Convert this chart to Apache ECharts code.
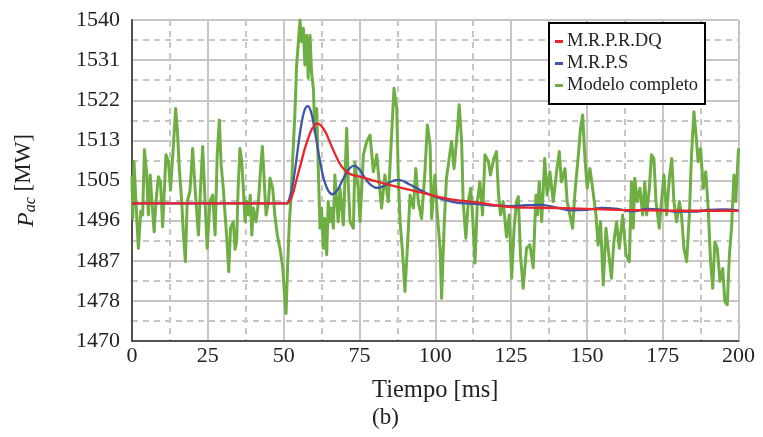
<!DOCTYPE html>
<html>
<head>
<meta charset="utf-8">
<script src="https://cdn.jsdelivr.net/npm/echarts@6/dist/echarts.min.js"></script>
<style>
html,body{margin:0;padding:0;background:#fff;}
#c{width:763px;height:437px;}
</style>
</head>
<body>
<div id="c"></div>
<script>
// ---- data ----
const seriesNames = ['M.R.P.R.DQ', 'M.R.P.S', 'Modelo completo'];
const yTickValues = [1470, 1478.75, 1487.5, 1496.25, 1505, 1513.75, 1522.5, 1531.25, 1540];
const yTickLabels = ['1470', '1478', '1487', '1496', '1505', '1513', '1522', '1531', '1540'];
const xTickLabels = ['0', '25', '50', '75', '100', '125', '150', '175', '200'];

const redT = [0,51,52,53,54,55,56,57,58,59,60,61,62,63,64,65,66,67,68,69,70,71,72,74,76,78,80,84,88,92,96,100,105,110,115,120,125,130,140,150,160,170,180,190,200];
const redV = [1500,1500,1500.5,1502,1504.5,1507,1509.5,1512,1514,1515.8,1516.9,1517.4,1517.2,1516.4,1515.3,1513.8,1512.2,1510.7,1509.3,1508.2,1507.4,1506.8,1506.4,1506,1505.7,1505.3,1504.9,1504.2,1503.5,1502.9,1502.3,1501.6,1500.9,1500.5,1500.1,1499.6,1499.2,1499.1,1499,1498.8,1498.6,1498.5,1498.4,1498.4,1498.4];

const blueT = [0,51,52,53,54,55,56,57,58,59,60,61,62,63,64,65,66,67,68,69,70,71,72,73,74,75,76,77,78,79,80,81,82,83,84,85,86,87,88,89,90,92,94,96,98,100,103,106,110,115,120,125,130,135,140,145,150,155,160,165,170,175,180,185,190,195,200];
const blueV = [1500,1500,1501.3,1504,1508.5,1513.5,1517.8,1520.5,1521.2,1520,1517,1513,1509.2,1506,1503.8,1502.5,1502,1502.3,1503.2,1504.5,1505.8,1507,1507.8,1508.2,1508,1507.4,1506.4,1505.4,1504.5,1503.9,1503.5,1503.4,1503.5,1503.8,1504.2,1504.6,1504.9,1505.1,1505.1,1505,1504.7,1504,1503.3,1502.6,1502,1501.5,1500.8,1500.3,1500,1499.8,1499.5,1499.4,1499.6,1499.7,1499.1,1498.5,1498.6,1499,1498.8,1498.3,1498.8,1498.6,1498.2,1498.2,1498.6,1498.7,1498.5];

const greenT = [0,0.25,0.66,1.3,2.1,2.9,3.5,4.1,4.8,5.4,6.0,6.5,7.3,7.9,8.7,9.4,10.1,10.7,11.2,12.0,12.7,13.6,14.4,15.0,15.6,16.4,16.9,17.6,18.2,19.1,20.0,20.8,21.9,22.6,23.3,24.1,24.8,25.7,26.6,27.4,28.1,28.8,29.4,30.1,30.7,31.2,31.9,32.5,33.4,34.0,34.5,35.0,35.6,36.2,36.7,37.3,37.8,38.4,39.0,39.5,40.0,40.9,41.7,42.4,43.0,43.5,44.2,45.0,45.5,46.4,47.1,47.9,48.8,49.7,50.3,50.8,51.3,51.9,52.4,53.0,53.7,54.3,54.8,55.4,55.9,56.5,57.0,57.6,58.1,58.7,59.2,59.8,60.3,60.9,61.4,62.0,62.5,63.1,63.6,64.2,64.7,65.3,65.8,66.4,66.9,68.0,68.6,69.7,70.8,71.3,71.9,73.0,73.5,74.6,75.2,76.3,77.4,78.5,79.6,80.7,81.5,82.3,83.4,84.5,85.6,86.4,87.3,87.8,88.4,89.2,90.0,90.8,91.7,92.8,93.6,94.4,95.5,96.6,97.4,98.3,98.8,99.9,100.7,101.6,102.1,102.9,103.7,104.6,105.4,106.2,107.0,107.9,108.7,109.2,110.1,110.9,111.7,112.3,113.1,113.9,114.7,115.6,116.4,117.5,118.2,119.3,120.2,120.8,121.5,122.4,123.5,124.4,125.2,126.0,126.8,127.4,128.1,129.0,130.1,131.2,132.3,133.2,133.7,134.3,135.1,136.1,136.9,137.8,138.9,140.0,140.9,141.6,142.8,143.5,144.4,145.3,146.0,147.2,147.9,148.6,149.3,150.1,151.0,151.9,153.0,153.7,154.5,155.4,156.3,157.0,158.1,158.9,159.8,160.7,161.8,162.9,164.0,164.7,165.3,165.8,166.6,167.5,168.4,169.1,169.7,170.6,171.3,172.1,172.8,173.9,174.6,175.4,176.3,177.2,178.0,178.7,179.6,180.5,181.2,182.0,182.9,183.8,184.5,185.3,186.0,186.7,187.5,188.4,189.2,190.0,190.8,191.5,192.2,193.0,193.9,194.8,195.5,196.3,197.0,197.7,198.5,199.1,200.0];
const greenV = [1506,1496.7,1509.1,1500.4,1490.2,1498.3,1497.5,1511.7,1506.9,1497.5,1506.2,1501,1493.8,1500.4,1505.8,1504.7,1494.9,1503.3,1510.6,1509.2,1502.9,1512,1520.7,1515.6,1507.6,1500.4,1493.8,1487.3,1500.4,1502.6,1512,1503.3,1493.1,1503.3,1512.4,1500.4,1490.2,1500.4,1501.8,1493.1,1510.6,1518.2,1508.4,1503.3,1497.5,1493.1,1485.1,1494.6,1496,1490,1491.6,1503.3,1512,1509.1,1503.3,1496,1500.4,1497.5,1501.8,1493.1,1499,1496,1500.4,1507.6,1512.4,1506.2,1497.5,1500.4,1505.5,1503.3,1497.5,1493.1,1490.2,1486,1480,1476,1486,1496,1501,1509.8,1519.3,1530.2,1534.5,1540,1535.3,1538.2,1530.2,1536.7,1527.3,1536.7,1528.7,1525.1,1515.6,1520.7,1508.4,1494.6,1499,1490.2,1496.7,1488.8,1500.4,1496,1499,1494.6,1506.2,1496,1503.3,1495.3,1516.4,1504.7,1496,1494.6,1509,1503.3,1496,1510.6,1513.5,1514.9,1506.9,1510.6,1504.7,1499,1506.2,1500.4,1514.9,1525.1,1520.7,1506.2,1496,1489.5,1480.8,1490.2,1501.8,1499,1507.6,1500.4,1496.7,1506.9,1517.1,1512.7,1496.7,1506.2,1497.5,1490.2,1479.3,1494.6,1505.5,1509.8,1513.5,1507.6,1513.5,1521.5,1513.5,1500.4,1492.4,1500.4,1503.3,1497.5,1487,1500.4,1504.7,1497.5,1510.6,1509.2,1506.2,1509.8,1511.3,1502.6,1497.5,1500.4,1492.7,1497.5,1483.7,1494.6,1500.4,1501.5,1488.8,1481.5,1490.2,1491,1486,1501.8,1497.5,1504.7,1496,1509.8,1501.8,1506.9,1500.4,1506.9,1511.3,1504.7,1507.6,1500.4,1497.5,1494.6,1501.8,1510.6,1516.4,1519.3,1510.6,1503.3,1507.6,1503.3,1497.5,1490.9,1496,1482.2,1494.6,1490.2,1483.7,1491.6,1496,1490.2,1497.5,1488.8,1487.3,1504.7,1494.6,1505.5,1500.4,1503.3,1497.5,1504.7,1497.5,1503.3,1510.6,1509.8,1500.4,1494.6,1500.4,1506.2,1497.5,1505.5,1509.8,1500.4,1496,1500.4,1497.5,1490.2,1487.3,1497.5,1510.6,1520,1514.9,1509.1,1512,1503.3,1506.9,1499,1487.3,1481.5,1491.6,1490.2,1483,1485.8,1478.6,1477.9,1488.8,1494.6,1506.2,1500.4,1512];

// ---- chart ----
const pair = (ts, vs) => ts.map((t, i) => [t, vs[i]]);
const FONT = '"Liberation Serif", "DejaVu Serif", serif';
const GRID = '#c9c5c5';
const chart = echarts.init(document.getElementById('c'), null, {renderer: 'canvas'});
chart.setOption({
  animation: false,
  backgroundColor: '#fff',
  grid: {left: 132, right: 24.5, top: 20, bottom: 96},
  legend: {
    orient: 'vertical', left: 549, top: 23,
    data: seriesNames,
    icon: 'rect', itemWidth: 8, itemHeight: 3, itemGap: 3,
    padding: [9, 7, 9, 6],
    borderColor: '#000', borderWidth: 2, backgroundColor: '#fff',
    textStyle: {fontFamily: FONT, fontSize: 18.5, color: '#222', lineHeight: 18, padding: [0, 0, 0, -1]}
  },
  xAxis: {
    type: 'value', min: 0, max: 200, interval: 25,
    name: 'Tiempo [ms]', nameLocation: 'middle', nameGap: 37,
    nameTextStyle: {fontFamily: FONT, fontSize: 24.5, color: '#222'},
    axisLine: {show: true, onZero: false, lineStyle: {color: '#505050', width: 2}},
    axisTick: {show: false},
    axisLabel: {fontFamily: FONT, fontSize: 22, color: '#222', margin: 4,
      formatter: (v) => { const i = Math.round(v / 25); return xTickLabels[i] !== undefined ? xTickLabels[i] : ''; }},
    splitLine: {show: true, lineStyle: {color: GRID, width: 2}},
    minorTick: {show: false, splitNumber: 2},
    minorSplitLine: {show: true, lineStyle: {color: GRID, width: 2, type: [6, 5]}}
  },
  yAxis: {
    type: 'value', min: 1470, max: 1540, interval: 8.75,
    name: '{P|P}{s|ac} [MW]', nameLocation: 'middle', nameGap: 93, nameRotate: 90,
    nameTextStyle: {fontFamily: FONT, fontSize: 23, color: '#222',
      rich: {
        P: {fontFamily: FONT, fontSize: 24, fontStyle: 'italic', color: '#222', verticalAlign: 'bottom', lineHeight: 24},
        s: {fontFamily: FONT, fontSize: 16, fontStyle: 'italic', color: '#222', verticalAlign: 'bottom', lineHeight: 30}
      }},
    axisLine: {show: true, onZero: false, lineStyle: {color: '#505050', width: 2}},
    axisTick: {show: false},
    axisLabel: {fontFamily: FONT, fontSize: 22, color: '#222', margin: 12,
      formatter: (v) => { const i = yTickValues.findIndex(x => Math.abs(x - v) < 0.01); return i >= 0 ? yTickLabels[i] : ''; }},
    splitLine: {show: true, lineStyle: {color: GRID, width: 2}},
    minorTick: {show: false, splitNumber: 2},
    minorSplitLine: {show: true, lineStyle: {color: GRID, width: 2, type: [6, 5]}}
  },
  graphic: [{
    type: 'text', left: 372, top: 406,
    style: {text: '(b)', font: '23px "Liberation Serif", serif', fill: '#222'}
  }],
  series: [
    {name: seriesNames[2], type: 'line', data: pair(greenT, greenV), showSymbol: false, z: 2,
     lineStyle: {color: '#6fae43', width: 3, join: 'round'}, itemStyle: {color: '#6fae43'}},
    {name: seriesNames[1], type: 'line', data: pair(blueT, blueV), showSymbol: false, smooth: 0.4, z: 3,
     lineStyle: {color: '#3f56a8', width: 2.3}, itemStyle: {color: '#3f56a8'}},
    {name: seriesNames[0], type: 'line', data: pair(redT, redV), showSymbol: false, smooth: 0.4, z: 4,
     lineStyle: {color: '#e8262c', width: 2.3}, itemStyle: {color: '#e8262c'}}
  ]
});
</script>
</body>
</html>
